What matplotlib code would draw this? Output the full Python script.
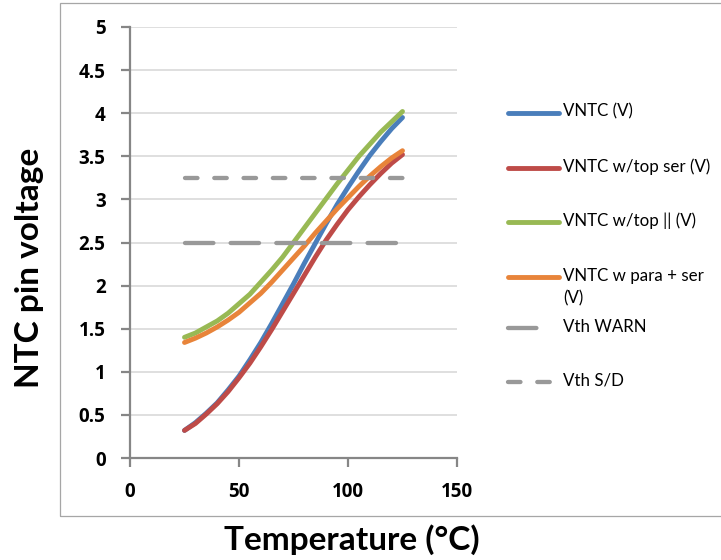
import matplotlib
matplotlib.use("Agg")
import matplotlib.pyplot as plt
from matplotlib.lines import Line2D
from matplotlib.patches import Rectangle

plt.rcParams['font.family'] = ['Lato', 'DejaVu Sans']

# ---- data ----
temperature = [25, 30, 35, 40, 45, 50, 55, 60, 65, 70, 75, 80, 85, 90, 95,
               100, 105, 110, 115, 120, 125]
vntc = [0.32, 0.41, 0.52, 0.64, 0.79, 0.95, 1.14, 1.34, 1.56, 1.79, 2.02,
        2.26, 2.49, 2.72, 2.94, 3.14, 3.33, 3.51, 3.67, 3.82, 3.95]
vntc_top_ser = [0.32, 0.40, 0.51, 0.63, 0.77, 0.93, 1.10, 1.29, 1.49, 1.70,
                1.91, 2.12, 2.33, 2.53, 2.71, 2.88, 3.03, 3.17, 3.30, 3.42, 3.52]
vntc_top_par = [1.40, 1.45, 1.52, 1.59, 1.68, 1.79, 1.90, 2.04, 2.18, 2.33,
                2.50, 2.67, 2.84, 3.01, 3.18, 3.34, 3.50, 3.64, 3.78, 3.90, 4.02]
vntc_para_ser = [1.34, 1.39, 1.45, 1.52, 1.60, 1.69, 1.80, 1.91, 2.04, 2.18,
                 2.32, 2.46, 2.61, 2.75, 2.89, 3.02, 3.15, 3.27, 3.38, 3.48, 3.565]
vth_x = [25, 125]
vth_warn = [2.5, 2.5]
vth_sd = [3.25, 3.25]

labels = ["VNTC (V)", "VNTC w/top ser (V)", "VNTC w/top || (V)",
          "VNTC w para + ser\n(V)", "Vth WARN", "Vth S/D"]
x_ticks = [0, 50, 100, 150]
y_ticks = [0, 0.5, 1, 1.5, 2, 2.5, 3, 3.5, 4, 4.5, 5]

# ---- styles ----
W, H = 721, 560
def fx(px):
    return px / W
def fy(py):
    return 1 - py / H

solid_lw = 3.5
dash_lw = 3.1
styles = [
    dict(color='#4A7EBB', lw=solid_lw, solid_capstyle='round', solid_joinstyle='round'),
    dict(color='#BE4B48', lw=solid_lw, solid_capstyle='round', solid_joinstyle='round'),
    dict(color='#98B954', lw=solid_lw, solid_capstyle='round', solid_joinstyle='round'),
    dict(color='#E8843A', lw=solid_lw, solid_capstyle='round', solid_joinstyle='round'),
    dict(color='#999999', lw=dash_lw, dash_capstyle='round', dashes=(6.6, 4.0)),
    dict(color='#999999', lw=dash_lw, dash_capstyle='round', dashes=(2.9, 3.9)),
]
tick_font = dict(family=['Open Sans', 'DejaVu Sans'], weight='bold', size=13.5)

fig = plt.figure(figsize=(W / 100, H / 100), dpi=100)
fig.patch.set_facecolor('white')

# chart border
fig.add_artist(Rectangle((fx(60), fy(516)), 1.2, (516 - 3) / H,
                         transform=fig.transFigure, fill=False,
                         edgecolor='#A6A6A6', lw=0.9))

ax = fig.add_axes([fx(130), fy(458), fx(457) - fx(130), (458 - 27) / H])

series = [(temperature, vntc), (temperature, vntc_top_ser),
          (temperature, vntc_top_par), (temperature, vntc_para_ser),
          (vth_x, vth_warn), (vth_x, vth_sd)]
for (xs, ys), st in zip(series, styles):
    ax.plot(xs, ys, **st)

ax.set_xlim(0, 150)
ax.set_ylim(0, 5)
ax.set_xticks(x_ticks)
ax.set_yticks(y_ticks)
ax.set_xticklabels([f"{v:g}" for v in x_ticks], fontdict=tick_font)
ax.set_yticklabels([f"{v:g}" for v in y_ticks], fontdict=tick_font)
ax.grid(axis='y', color='#D9D9D9', lw=1.2)
ax.set_axisbelow(True)
for s in ['top', 'right']:
    ax.spines[s].set_visible(False)
for s in ['left', 'bottom']:
    ax.spines[s].set_color('#868686')
    ax.spines[s].set_linewidth(1.6)
ax.tick_params(axis='both', direction='out', length=6.5, width=1.6,
               color='#868686', labelcolor='black')
ax.tick_params(axis='y', pad=11)
ax.tick_params(axis='x', pad=11)

# axis titles
fig.text(fx(30), fy(268), "NTC pin voltage", rotation=90, ha='center',
         va='center', fontsize=24, fontweight='bold')
fig.text(fx(352), fy(540), "Temperature (°C)", ha='center', va='center',
         fontsize=24, fontweight='bold')

# legend (drawn manually to match layout)
leg_y = [113, 168, 222, 277, 328, 382]
for i, (lab, st, y) in enumerate(zip(labels, styles, leg_y)):
    x1 = 550 if i == 4 else 559
    fig.add_artist(Line2D([fx(508), fx(x1)], [fy(y), fy(y)],
                          transform=fig.transFigure, **st))
    fig.text(fx(563), fy(y - 9.5), lab, ha='left', va='top', fontsize=12.2,
             fontweight='normal', color='black', linespacing=1.5)

fig.savefig("out.png", dpi=100)
